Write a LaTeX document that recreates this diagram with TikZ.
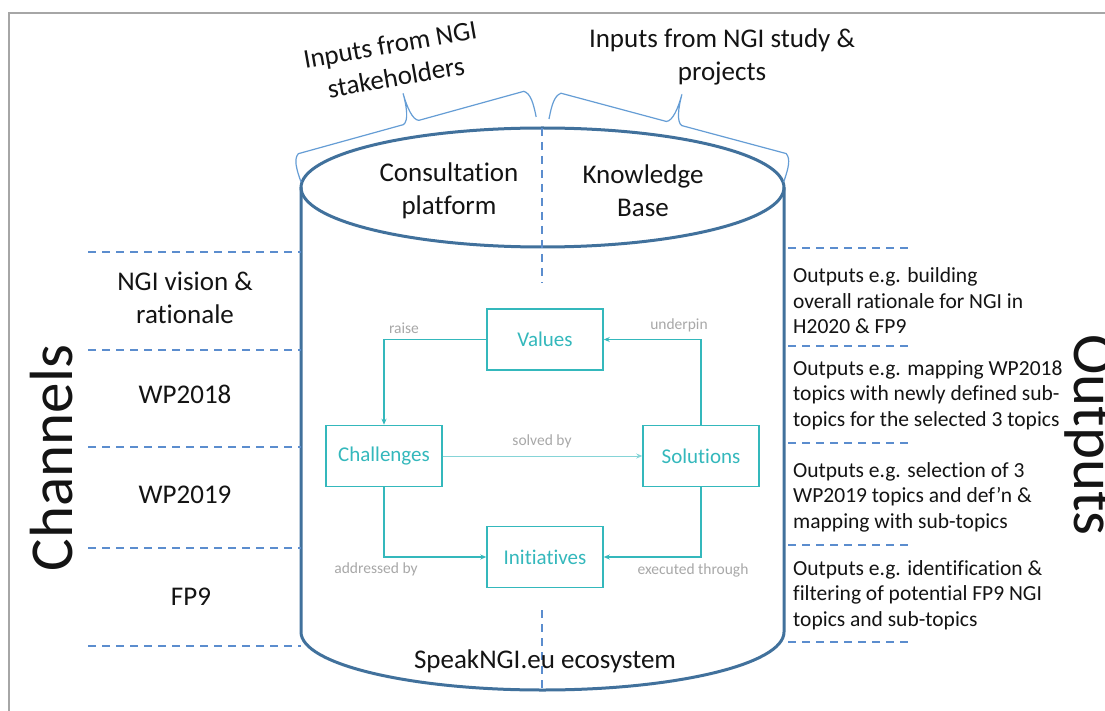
\documentclass[tikz,border=0pt]{standalone}
\usepackage{fontspec}
\setmainfont{Carlito}[Ligatures=NoCommon]
\usetikzlibrary{arrows.meta}
\definecolor{cylblue}{RGB}{65,113,156}
\definecolor{dashblue}{RGB}{91,141,206}
\definecolor{bracecol}{RGB}{101,157,213}
\definecolor{ngiteal}{RGB}{52,184,188}
\definecolor{lblgray}{RGB}{168,168,168}
\definecolor{framegray}{RGB}{166,166,166}
\definecolor{inkblack}{RGB}{20,20,20}

\begin{document}
\begin{tikzpicture}[x=1pt,y=-1pt,
  dashline/.style={dashblue, line width=2pt, dash pattern=on 8pt off 6pt},
  cyl/.style={cylblue, line width=3pt},
  bracket/.style={bracecol, line width=1.2pt, line join=round},
  maintxt/.style={font=\fontsize{27}{33}\selectfont, align=center, text=inkblack, inner sep=0pt},
  outtxt/.style={font=\fontsize{21.5}{25.5}\selectfont, align=left, anchor=west, text=inkblack, inner sep=0pt},
  tbox/.style={draw=ngiteal, line width=1.5pt, text=ngiteal, minimum width=116pt,
    minimum height=61pt, inner sep=0pt, font=\fontsize{21}{25}\selectfont},
  tarr/.style={ngiteal, line width=1.5pt, -{Stealth[length=6pt,width=5pt]}},
  tlbl/.style={text=lblgray, font=\fontsize{15.5}{18}\selectfont, inner sep=0pt},
  bigtxt/.style={font=\fontsize{61}{70}\selectfont, text=inkblack, inner sep=0pt}]

\useasboundingbox (0,0) rectangle (1105,711);
\fill[white] (0,0) rectangle (1105,711);

% outer frame
\draw[framegray, line width=2pt] (9,711) -- (9,13) -- (1105,13);

% cylinder body and lid
\draw[cyl] (301,187.5) -- (301,632)
  .. controls (301,664) and (409.1,690) .. (542.5,690)
  .. controls (675.9,690) and (784,664) .. (784,632) -- (784,187.5);
\draw[cyl] (542.5,187.5) ellipse [x radius=241.5, y radius=59.5];

% centre divider
\coordinate (divA) at (542,128);
\coordinate (divB) at (542,283);
\coordinate (divC) at (542,610);
\coordinate (divD) at (542,690);
\draw[dashline] (divA) -- (divB);
\draw[dashline] (divC) -- (divD);

% channel separators
\foreach \y [count=\i] in {252,350,447,548,646}{
  \coordinate (cl\i) at (88,\y);
  \coordinate (cr\i) at (301,\y);
  \draw[dashline] (cl\i) -- (cr\i);
}
% output separators
\foreach \y [count=\i] in {248,346,443,545,642}{
  \coordinate (ol\i) at (788,\y);
  \coordinate (or\i) at (912,\y);
  \draw[dashline] (ol\i) -- (or\i);
}

% input braces
\begin{scope}[shift={(301,182)}, rotate=15.46]
  \draw[bracket] (0,0) .. controls (-1,-14) and (-1,-24) .. (5,-28) -- (114,-28)
    .. controls (120,-30) and (122,-44) .. (122,-58)
    .. controls (122,-44) and (124,-30) .. (130,-28) -- (239,-28)
    .. controls (245,-24) and (245,-14) .. (244,0);
\end{scope}
\begin{scope}[shift={(549,119)}, rotate=-15]
  \draw[bracket] (0,0) .. controls (-1,-14) and (-1,-24) .. (5,-28) -- (114,-28)
    .. controls (120,-30) and (122,-44) .. (122,-58)
    .. controls (122,-44) and (124,-30) .. (130,-28) -- (238,-28)
    .. controls (244,-24) and (244,-14) .. (243,0);
\end{scope}

% input labels
\node[maintxt, rotate=10] (instake) at (393,61) {Inputs from NGI\\stakeholders};
\node[maintxt] (instudy) at (722,57) {Inputs from NGI study \&\\projects};

% lid labels
\node[maintxt] (consult) at (449,191) {Consultation\\platform};
\node[maintxt] (kbase) at (643,191) {Knowledge\\Base};
\node[maintxt] (eco) at (545,661) {SpeakNGI.eu ecosystem};

% channels
\node[bigtxt, rotate=90, anchor=base] (channels) at (72,458) {Channels};
\node[maintxt] (ch1) at (185,298) {NGI vision \&\\rationale};
\node[maintxt] (ch2) at (185,394) {WP2018};
\node[maintxt] (ch3) at (185,495) {WP2019};
\node[maintxt] (ch4) at (191,597) {FP9};

% outputs
\node[bigtxt, rotate=-90, anchor=base] (outputs) at (1074,435) {Outputs};
\node[outtxt] (out1) at (793,301) {Outputs e.g. building\\overall rationale for NGI in\\H2020 \& FP9};
\node[outtxt] (out2) at (793,395) {Outputs e.g. mapping WP2018\\topics with newly defined sub-\\topics for the selected 3 topics};
\node[outtxt] (out3) at (793,497) {Outputs e.g. selection of 3\\WP2019 topics and def’n \&\\mapping with sub-topics};
\node[outtxt] (out4) at (793,595) {Outputs e.g. identification \&\\filtering of potential FP9 NGI\\topics and sub-topics};

% value cycle
\node[tbox] (values) at (545,339.5) {Values};
\node[tbox] (challenges) at (384,456) {Challenges};
\node[tbox] (solutions) at (701,456) {Solutions};
\node[tbox] (initiatives) at (545,557) {Initiatives};

\draw[tarr] (values.west) -| (challenges.north);
\draw[tarr] (solutions.north) |- (values.east);
\draw[tarr, line width=0.8pt, ngiteal!60] (challenges.east) -- (solutions.west);
\draw[tarr] (challenges.south) |- (initiatives.west);
\draw[tarr] (solutions.south) |- (initiatives.east);

\node[tlbl] (lraise) at (404,328) {raise};
\node[tlbl] (lunder) at (679,325) {underpin};
\node[tlbl] (lsolved) at (542,441) {solved by};
\node[tlbl] (laddr) at (376,569) {addressed by};
\node[tlbl] (lexec) at (693,570) {executed through};
\end{tikzpicture}
\end{document}
